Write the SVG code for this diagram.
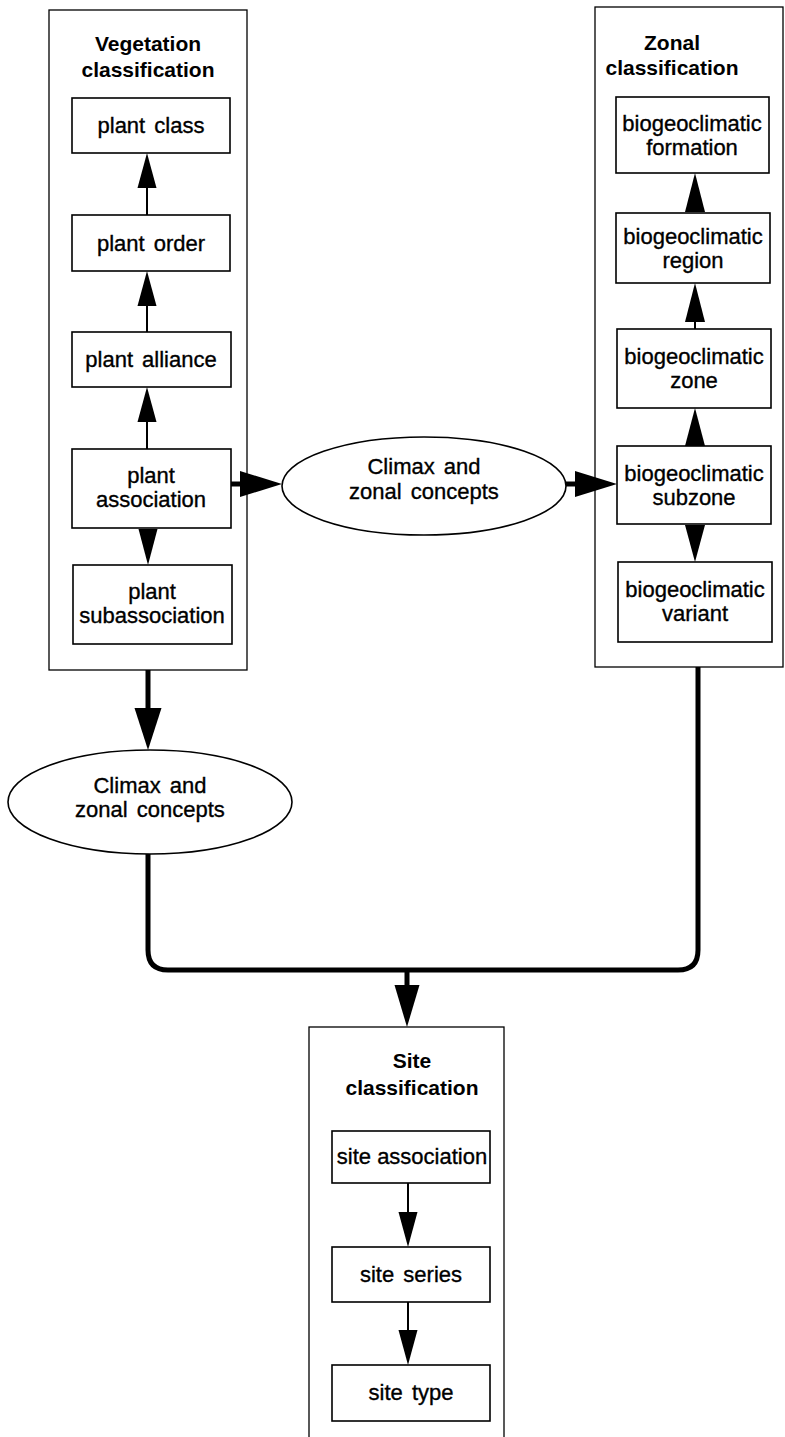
<svg xmlns="http://www.w3.org/2000/svg" width="785" height="1437" viewBox="0 0 785 1437">
<style>
.bg{fill:#fff}
.cont{fill:#fff;stroke:#000;stroke-width:1.3}
.box{fill:#fff;stroke:#000;stroke-width:1.6}
.ell{fill:#fff;stroke:#000;stroke-width:1.6}
.lbl{font-family:"Liberation Sans",Arial,sans-serif;font-size:22px;text-anchor:middle;fill:#000;stroke:#000;stroke-width:0.35;word-spacing:3px}
.ttl{font-family:"Liberation Sans",Arial,sans-serif;font-size:21px;font-weight:bold;text-anchor:middle;fill:#000}
.thin{fill:none;stroke:#000;stroke-width:2}
.thick{fill:none;stroke:#000;stroke-width:5}
.head{fill:#000;stroke:none}
</style>
<rect class="bg" x="0" y="0" width="785" height="1437"/>

<g id="vegetation-classification">
<rect class="cont" x="49" y="10" width="198" height="660"/>
<text class="ttl" x="148" y="51">Vegetation</text>
<text class="ttl" x="148" y="77">classification</text>
</g>
<g id="plant-class">
<rect class="box" x="72" y="98" width="158" height="55"/>
<text class="lbl" x="151" y="133">plant class</text>
</g>
<g id="plant-order">
<rect class="box" x="72" y="215" width="158" height="56"/>
<text class="lbl" x="151" y="251">plant order</text>
</g>
<g id="plant-alliance">
<rect class="box" x="72" y="332" width="159" height="55"/>
<text class="lbl" x="151" y="367">plant alliance</text>
</g>
<g id="plant-association">
<rect class="box" x="72" y="449" width="159" height="79"/>
<text class="lbl" x="151" y="483">plant</text>
<text class="lbl" x="151" y="507">association</text>
</g>
<g id="plant-subassociation">
<rect class="box" x="73" y="565" width="159" height="79"/>
<text class="lbl" x="152" y="599">plant</text>
<text class="lbl" x="152" y="623">subassociation</text>
</g>

<g id="zonal-classification">
<rect class="cont" x="595" y="7" width="188" height="660"/>
<text class="ttl" x="672" y="50">Zonal</text>
<text class="ttl" x="672" y="75">classification</text>
</g>
<g id="bgc-formation">
<rect class="box" x="616" y="97" width="153" height="76"/>
<text class="lbl" x="692" y="131">biogeoclimatic</text>
<text class="lbl" x="692" y="155">formation</text>
</g>
<g id="bgc-region">
<rect class="box" x="616" y="213" width="154" height="70"/>
<text class="lbl" x="693" y="244">biogeoclimatic</text>
<text class="lbl" x="693" y="268">region</text>
</g>
<g id="bgc-zone">
<rect class="box" x="617" y="329" width="154" height="79"/>
<text class="lbl" x="694" y="364">biogeoclimatic</text>
<text class="lbl" x="694" y="388">zone</text>
</g>
<g id="bgc-subzone">
<rect class="box" x="617" y="446" width="154" height="78"/>
<text class="lbl" x="694" y="481">biogeoclimatic</text>
<text class="lbl" x="694" y="505">subzone</text>
</g>
<g id="bgc-variant">
<rect class="box" x="618" y="562" width="154" height="80"/>
<text class="lbl" x="695" y="597">biogeoclimatic</text>
<text class="lbl" x="695" y="621">variant</text>
</g>

<g id="concepts-middle">
<ellipse class="ell" cx="424" cy="486" rx="142" ry="49"/>
<text class="lbl" x="424" y="474">Climax and</text>
<text class="lbl" x="424" y="499">zonal concepts</text>
</g>
<g id="concepts-left">
<ellipse class="ell" cx="150" cy="802" rx="142" ry="52"/>
<text class="lbl" x="150" y="793">Climax and</text>
<text class="lbl" x="150" y="817">zonal concepts</text>
</g>

<g id="site-classification">
<rect class="cont" x="309" y="1027" width="195" height="420"/>
<text class="ttl" x="412" y="1068">Site</text>
<text class="ttl" x="412" y="1095">classification</text>
</g>
<g id="site-association">
<rect class="box" x="332" y="1131" width="158" height="52"/>
<text class="lbl" x="412" y="1164" style="word-spacing:0">site association</text>
</g>
<g id="site-series">
<rect class="box" x="332" y="1247" width="158" height="55"/>
<text class="lbl" x="411" y="1282">site series</text>
</g>
<g id="site-type">
<rect class="box" x="332" y="1365" width="158" height="56"/>
<text class="lbl" x="411" y="1400">site type</text>
</g>

<g id="connectors">
<!-- vegetation column -->
<line class="thin" x1="147" y1="188" x2="147" y2="215"/>
<polygon class="head" points="147,153 137.5,188 156.5,188"/>
<line class="thin" x1="147" y1="305" x2="147" y2="332"/>
<polygon class="head" points="147,271 137.5,306 156.5,306"/>
<line class="thin" x1="147" y1="421" x2="147" y2="449"/>
<polygon class="head" points="147,387 137.5,422 156.5,422"/>
<polygon class="head" points="148,565 138.5,529 157.5,529"/>
<!-- zonal column -->
<polygon class="head" points="695,173 685,212 705,212"/>
<line class="thin" x1="695" y1="318" x2="695" y2="329"/>
<polygon class="head" points="695,283 685,322 705,322"/>
<polygon class="head" points="695,408 685,446 705,446"/>
<polygon class="head" points="695,562 685,525 705,525"/>
<!-- association to middle ellipse to subzone -->
<line class="thick" x1="231" y1="484" x2="242" y2="484"/>
<polygon class="head" points="282,484 240,471 240,497"/>
<line class="thick" x1="566" y1="484" x2="577" y2="484"/>
<polygon class="head" points="617,484 575,471 575,497"/>
<!-- vegetation to left ellipse -->
<line class="thick" x1="148" y1="670" x2="148" y2="710"/>
<polygon class="head" points="148,750 134.5,708 161.5,708"/>
<!-- merge to site -->
<path class="thick" d="M148,854 V950 Q148,970 168,970 H678 Q698,970 698,950 V667"/>
<line class="thick" x1="407" y1="970" x2="407" y2="988"/>
<polygon class="head" points="407,1027 394.5,985 419.5,985"/>
<!-- site column -->
<line class="thin" x1="408" y1="1183" x2="408" y2="1214"/>
<polygon class="head" points="408,1247 398.5,1212 417.5,1212"/>
<line class="thin" x1="408" y1="1302" x2="408" y2="1332"/>
<polygon class="head" points="408,1365 398.5,1330 417.5,1330"/>
</g>
</svg>
